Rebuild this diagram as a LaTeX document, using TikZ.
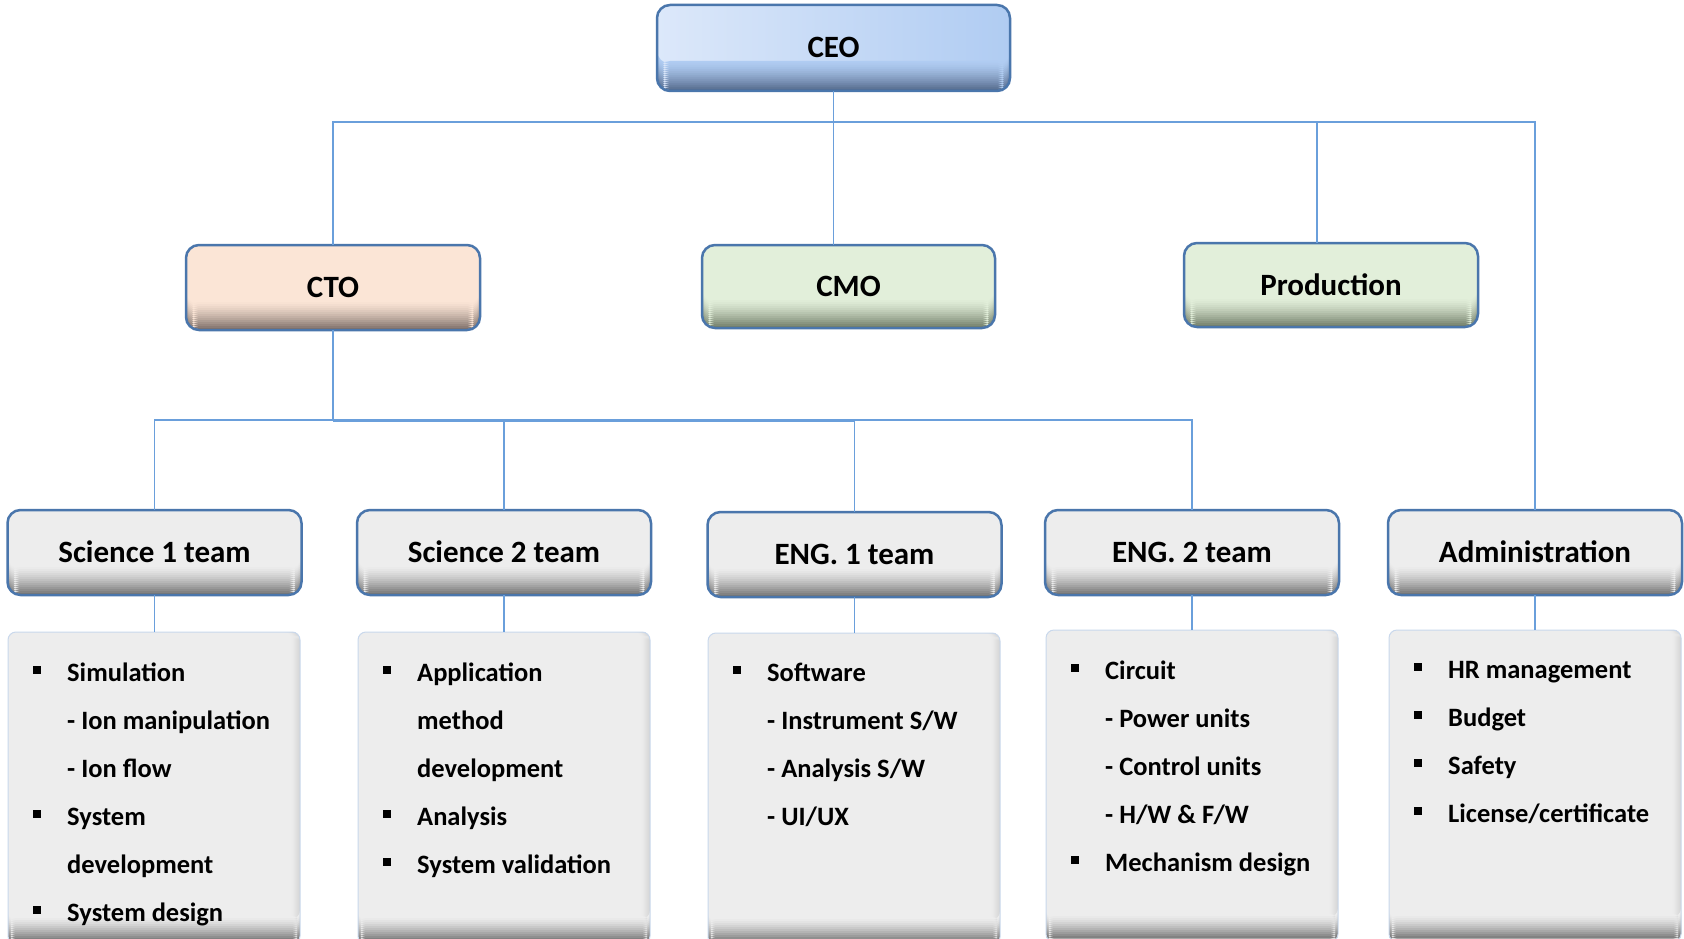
\documentclass[tikz,border=0pt]{standalone}
\usepackage{fontspec}
\setmainfont{Carlito}
\definecolor{bordc}{HTML}{4A76AC}
\definecolor{linec}{HTML}{6A9FDB}
\definecolor{ceotop}{HTML}{DCE8FA}
\definecolor{ceobot}{HTML}{B0CCF2}
\definecolor{ceodark}{HTML}{566C8E}
\definecolor{ctofill}{HTML}{FBE5D6}
\definecolor{ctodark}{HTML}{80716A}
\definecolor{grnfill}{HTML}{E2EFDA}
\definecolor{grndark}{HTML}{74806B}
\definecolor{teamfill}{HTML}{EDEDED}
\definecolor{teamdark}{HTML}{767676}
\definecolor{listedge}{HTML}{C9D8EC}
\definecolor{listside}{HTML}{D6D6D6}
\newcommand\bul[1]{\makebox[34pt][l]{\rule[7pt]{8pt}{8pt}}#1}
\newcommand\subit[1]{\hspace*{34pt}#1}
\tikzset{
  band/.style 2 args={path picture={
    \foreach \k in {0,...,14} {
      \pgfmathsetmacro\pc{100*(\k/14)^1.4}
      \pgfmathsetmacro\ya{30-2*\k}
      \pgfmathsetmacro\yb{28-2*\k-0.6}
      \fill[#2!\pc!#1] ([yshift=\ya pt]path picture bounding box.south west)
        rectangle ([yshift=\yb pt]path picture bounding box.south east);
    }}},
  box/.style={draw=bordc, line width=2.5pt, rounded corners=13pt,
    minimum width=294pt, minimum height=85pt, inner sep=0pt, outer sep=0pt,
    font=\bfseries\fontsize{31}{31}\selectfont, text height=20pt, text depth=0pt},
  teambox/.style={box, fill=teamfill, band={teamfill}{teamdark}},
  listbox/.style={draw=listedge, line width=1pt, rounded corners=8pt, fill=teamfill,
    minimum width=292pt, minimum height=312pt, inner sep=0pt, outer sep=0pt, anchor=north west,
    path picture={
      \foreach \k in {0,...,9} {
        \pgfmathsetmacro\pc{100*(\k/9)^1.5}
        \pgfmathsetmacro\xa{-10+\k}
        \pgfmathsetmacro\xb{-9+\k+0.5}
        \fill[listside!\pc!teamfill] ([xshift=\xa pt]path picture bounding box.south east)
          rectangle ([xshift=\xb pt]path picture bounding box.north east);
      }
      \foreach \k in {0,...,11} {
        \pgfmathsetmacro\pc{90*(\k/11)^1.4}
        \pgfmathsetmacro\ya{28-2*\k}
        \pgfmathsetmacro\yb{26-2*\k-0.6}
        \fill[teamdark!\pc!teamfill] ([yshift=\ya pt]path picture bounding box.south west)
          rectangle ([yshift=\yb pt]path picture bounding box.south east);
      }}},
  item/.style={inner sep=0pt, anchor=base west, font=\bfseries\fontsize{26.5}{48}\selectfont},
  conn/.style={draw=linec, line width=1.6pt},
}
\begin{document}
\begin{tikzpicture}[x=1pt,y=-1pt]
\useasboundingbox (0,0) rectangle (1684,939);
\clip (0,0) rectangle (1684,939);
\fill[white] (0,0) rectangle (1684,939);
% top level
\node[box, left color=ceotop, right color=ceobot, band={ceobot}{ceodark},
      minimum width=353pt, minimum height=86pt] (ceo) at (833.5,48) {CEO};
\node[box, fill=ctofill, band={ctofill}{ctodark}] (cto) at (333,287.5) {CTO};
\node[box, fill=grnfill, band={grnfill}{grndark}, minimum width=293pt, minimum height=83pt] (cmo) at (848.5,286.5) {CMO};
\node[box, fill=grnfill, band={grnfill}{grndark}, minimum height=84pt] (prod) at (1331,285) {Production};
% teams
\node[teambox] (sci1) at (154.5,552.5) {Science 1 team};
\node[teambox] (sci2) at (504,552.5) {Science 2 team};
\node[teambox] (eng1) at (854.5,554.5) {ENG. 1 team};
\node[teambox] (eng2) at (1192,552.5) {ENG. 2 team};
\node[teambox] (admin) at (1535,552.5) {Administration};
% lists
\node[listbox] (l1) at (8,632) {};
\node[listbox] (l2) at (358,632) {};
\node[listbox] (l3) at (708,633) {};
\node[listbox] (l4) at (1046,630) {};
\node[listbox] (l5) at (1389,630) {};
\foreach \t [count=\i from 0] in {\bul{Simulation},\subit{- Ion manipulation},\subit{- Ion flow},\bul{System},\subit{development},\bul{System design}}
  \node[item] (s1-\i) at (33,{681+48*\i}) {\t};
\foreach \t [count=\i from 0] in {\bul{Application},\subit{method},\subit{development},\bul{Analysis},\bul{System validation}}
  \node[item] (s2-\i) at (383,{681+48*\i}) {\t};
\foreach \t [count=\i from 0] in {\bul{Software},\subit{- Instrument S/W},\subit{- Analysis S/W},\subit{- UI/UX}}
  \node[item] (e1-\i) at (733,{681+48*\i}) {\t};
\foreach \t [count=\i from 0] in {\bul{Circuit},\subit{- Power units},\subit{- Control units},\subit{- H/W \& F/W},\bul{Mechanism design}}
  \node[item] (e2-\i) at (1071,{679+48*\i}) {\t};
\foreach \t [count=\i from 0] in {\bul{HR management},\bul{Budget},\bul{Safety},\bul{License/certificate}}
  \node[item] (ad-\i) at (1414,{678+48*\i}) {\t};
% connectors
\coordinate (ylev1) at (0,122);
\coordinate (ylev2) at (0,420);
\draw[conn] (ceo.south) -- (ceo.south |- ylev1);
\draw[conn] (cto.north) |- (admin.north |- ylev1) -- (admin.north);
\draw[conn] (ceo.south |- ylev1) -- (ceo.south |- cmo.north);
\coordinate (prodin) at ([xshift=-14pt]prod.north);
\draw[conn] (prodin |- ylev1) -- (prodin);
\draw[conn] (cto.south) -- (cto.south |- ylev2);
\draw[conn] (sci1.north) |- (eng2.north |- ylev2) -- (eng2.north);
\draw[conn] (sci2.north) -- (sci2.north |- ylev2);
\draw[conn] (eng1.north) -- (eng1.north |- ylev2);
\draw[conn, line width=3pt] (cto.south |- ylev2) -- (eng1.north |- ylev2);
\foreach \a/\b in {sci1/l1, sci2/l2, eng1/l3, eng2/l4, admin/l5}
  \draw[conn, line width=1.2pt] (\a.south) -- (\a.south |- \b.north);
\end{tikzpicture}
\end{document}
